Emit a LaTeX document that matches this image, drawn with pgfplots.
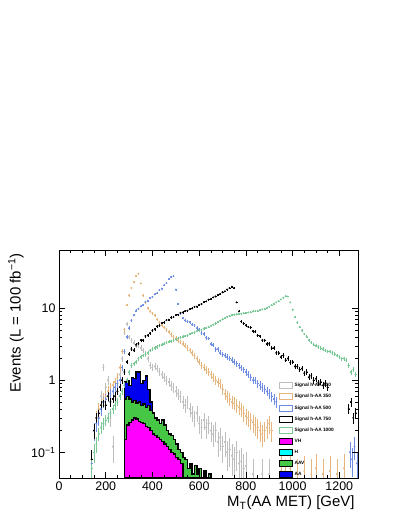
\documentclass[border=0pt]{standalone}
\usepackage{fontspec}
\setmainfont{Liberation Sans}
\usepackage{pgfplots}
\usepackage{pgfplotstable}
\pgfplotsset{compat=1.18}
\definecolor{sgray}{RGB}{190,190,190}
\definecolor{sorange}{RGB}{228,182,125}
\definecolor{sblue}{RGB}{110,140,225}
\definecolor{sgreen}{RGB}{120,200,150}
\definecolor{bmag}{RGB}{255,0,255}
\definecolor{bcyan}{RGB}{0,255,255}
\definecolor{bgreen}{RGB}{70,200,70}
\definecolor{bblue}{RGB}{0,0,240}

\pgfplotstableread{
x y
180 0.6
190 1.5
200 0.8
210 1.0
220 0.3
230 0.12
240 0.6
250 0.9
260 1.2
270 2.0
280 4.5
290 6.0
300 4.0
310 3.6
320 3.3
330 3.0
340 3.0
350 2.8
360 2.6
370 2.3
380 2.0
390 1.6
400 1.5
410 1.55
420 1.45
430 1.3
440 1.2
450 1.1
460 1.0
470 0.95
480 0.85
490 0.8
500 0.7
510 0.65
520 0.6
530 0.5
540 0.45
550 0.5
560 0.4
570 0.35
580 0.3
590 0.35
600 0.25
610 0.22
620 0.28
630 0.22
640 0.25
650 0.2
660 0.18
670 0.2
680 0.14
690 0.16
700 0.12
710 0.14
720 0.1
730 0.11
740 0.09
750 0.08
760 0.1
770 0.07
780 0.075
790 0.06
800 0.065
830 0.05
870 0.05
900 0.05
}\tgray

\pgfplotstableread{
x y
160 0.3
170 0.4
180 0.45
190 0.55
200 0.6
210 0.7
220 0.8
230 0.85
240 0.95
250 1.1
260 1.5
270 2.5
280 5.0
290 11.0
300 15.0
310 19.0
320 23.0
330 28.0
340 30.0
350 22.0
360 15.0
370 12.0
380 10.0
390 9.0
400 8.5
410 8.0
420 7.0
430 6.3
440 5.8
450 5.4
460 5.0
470 4.7
480 4.3
490 4.0
500 3.8
510 3.6
520 3.4
530 3.2
540 3.0
550 2.8
560 2.6
570 2.4
580 2.2
590 2.0
600 1.8
610 1.6
620 1.5
630 1.4
640 1.3
650 1.2
660 1.1
670 1.0
680 0.95
690 0.9
700 0.75
710 0.65
720 0.6
730 0.55
740 0.5
750 0.48
760 0.45
770 0.42
780 0.4
790 0.35
800 0.32
810 0.3
820 0.28
830 0.26
840 0.24
850 0.22
860 0.2
870 0.18
880 0.2
890 0.22
900 0.25
910 0.2
950 0.055
970 0.05
990 0.06
1020 0.05
1050 0.055
1080 0.05
1100 0.06
1130 0.05
1160 0.055
1190 0.05
1220 0.06
}\torange

\pgfplotstableread{
x y
140 0.07
150 0.2
160 0.25
170 0.3
180 0.4
190 0.5
200 0.55
210 0.6
220 0.65
230 0.7
240 0.8
250 0.9
260 1.0
270 1.5
280 2.5
290 4.0
300 5.3
310 6.8
320 8.0
330 9.2
340 9.8
350 10.6
360 11.1
370 12.2
380 12.6
390 13.9
400 14.3
410 15.5
420 16.1
430 17.8
440 18.6
450 20.8
460 22.2
470 25.3
480 27.2
490 27.8
500 18.0
510 11.5
520 8.5
530 7.3
540 6.8
550 6.5
560 6.4
570 5.9
580 5.8
590 5.3
600 5.1
610 4.5
620 4.4
630 3.9
640 3.8
650 3.2
660 3.1
670 2.7
680 2.7
690 2.4
700 2.3
710 2.2
720 2.1
730 2.0
740 1.9
750 1.8
760 1.7
770 1.6
780 1.5
790 1.4
800 1.3
810 1.2
820 1.1
830 1.0
840 1.0
850 0.9
860 0.85
870 0.8
880 0.75
890 0.7
900 0.65
910 0.6
920 0.55
930 0.5
1245 0.1
1255 0.08
1265 0.12
1275 0.07
}\tblue

\pgfplotstableread{
x y
140 0.08
150 0.2
160 0.3
170 0.35
180 0.45
190 0.5
200 0.45
210 0.6
220 0.5
230 0.55
240 0.6
250 0.7
260 0.8
270 1.0
280 1.3
290 1.8
300 2.3
310 2.7
320 2.6
330 3.1
340 3.2
350 3.6
360 3.6
370 4.1
380 4.2
390 4.5
400 4.9
410 5.1
420 5.6
430 5.7
440 6.2
450 6.3
460 6.8
470 6.9
480 7.4
490 7.5
500 8.0
510 8.1
520 8.6
530 8.7
540 9.1
550 9.2
560 9.7
570 9.9
580 10.4
590 10.5
600 11.1
610 11.4
620 12.1
630 12.4
640 13.1
650 13.4
660 14.1
670 14.5
680 15.3
690 15.7
700 16.6
710 17.1
720 18.1
730 18.9
740 19.8
750 19.0
760 12.0
770 9.0
780 6.5
790 6.1
800 5.8
810 5.5
820 5.4
830 4.8
840 4.7
850 4.2
860 4.1
870 3.6
880 3.6
890 3.2
900 3.2
910 2.8
920 2.8
930 2.4
940 2.4
950 2.1
960 2.2
970 1.9
980 2.0
990 1.75
1000 1.8
1010 1.55
1020 1.55
1030 1.4
1040 1.45
1050 1.25
1060 1.3
1070 1.1
1080 1.15
1090 1.0
1100 1.05
1110 0.92
1120 0.95
1130 0.85
1140 0.9
1150 0.8
1240 0.4
1250 0.5
1260 0.3
1270 0.35
}\tblack

\pgfplotstableread{
x y
140 0.06
150 0.1
160 0.13
170 0.18
180 0.22
190 0.25
200 0.28
210 0.3
220 0.35
230 0.4
240 0.45
250 0.5
260 0.6
270 0.7
280 0.85
290 1.0
300 1.3
310 1.6
320 1.7
330 1.8
340 2.0
350 2.1
360 2.2
370 2.3
380 2.4
390 2.6
400 2.7
410 2.8
420 2.9
430 3.0
440 3.1
450 3.2
460 3.3
470 3.4
480 3.5
490 3.6
500 3.7
510 3.8
520 3.9
530 4.0
540 4.1
550 4.2
560 4.4
570 4.5
580 4.6
590 4.8
600 4.9
610 5.0
620 5.2
630 5.3
640 5.5
650 5.7
660 5.9
670 6.1
680 6.4
690 6.7
700 7.0
710 7.3
720 7.6
730 7.8
740 8.0
750 8.1
760 8.2
770 8.3
780 8.4
790 8.5
800 8.6
810 8.7
820 8.8
830 9.0
840 9.1
850 9.2
860 9.4
870 9.6
880 9.8
890 10.0
900 10.5
910 11.0
920 11.5
930 12.0
940 12.5
950 13.2
960 14.0
970 14.7
980 14.5
990 12.0
1000 9.5
1010 7.5
1020 6.3
1030 5.5
1040 4.9
1050 4.4
1060 4.0
1070 3.6
1080 3.3
1090 3.1
1100 3.0
1110 2.9
1120 2.8
1130 2.7
1140 2.6
1150 2.5
1160 2.5
1170 2.4
1180 2.3
1190 2.2
1200 2.1
1210 2.0
1220 2.0
1230 1.9
1240 1.6
1250 1.3
1260 1.4
1270 1.2
}\tgreen

% stacked backgrounds: cumulative totals, bin left edges
\pgfplotstableread{
x y
280 0.95
290 1.0
300 0.85
310 1.1
320 1.05
330 1.3
340 1.3
350 0.9
360 1.0
370 1.15
380 0.75
390 0.5
400 0.001
}\stAA

\pgfplotstableread{
x y
280 0.55
290 0.6
300 0.55
310 0.5
320 0.52
330 0.48
340 0.5
350 0.45
360 0.47
370 0.42
380 0.45
390 0.38
400 0.35
410 0.3
420 0.28
430 0.25
440 0.28
450 0.24
460 0.2
470 0.18
480 0.17
490 0.15
500 0.13
510 0.11
520 0.1
530 0.085
540 0.08
550 0.06
560 0.07
570 0.05
580 0.065
590 0.05
600 0.06
610 0.001
620 0.055
630 0.001
640 0.05
650 0.001
}\stAAV

\pgfplotstableread{
x y
280 0.15
290 0.24
300 0.26
310 0.28
320 0.3
330 0.29
340 0.27
350 0.26
360 0.25
370 0.23
380 0.22
390 0.2
400 0.18
410 0.17
420 0.16
430 0.15
440 0.14
450 0.13
460 0.12
470 0.11
480 0.1
490 0.095
500 0.085
510 0.08
520 0.07
530 0.001
}\stVH

\begin{document}
\begin{tikzpicture}
\useasboundingbox (0,0) rectangle (399bp,516bp);
\begin{axis}[
  at={(59bp,38bp)}, anchor=south west,
  scale only axis, width=299bp, height=228bp,
  xmin=0, xmax=1280,
  ymode=log, ymin=0.044, ymax=64,
  log origin y=infty,
  xtick={0,200,...,1200},
  minor x tick num=3,
  ytick={0.1,1,10},
  yticklabels={10\textsuperscript{−1},1,10},
  /pgf/number format/assume math mode=true,
  /pgf/number format/1000 sep={},
  tick label style={font=\fontsize{12.5}{14}\selectfont},
  tick align=inside, tick pos=both,
  major tick length=6bp, minor tick length=3bp,
  every tick/.style={black, line width=0.5bp},
  axis line style={line width=0.6bp},
  axis on top,
  legend style={at={(0.736,0.425)}, anchor=north west, draw=none, fill=none,
    font=\bfseries\fontsize{4.8}{5.4}\selectfont, row sep=2.2bp,
    inner sep=0pt, legend cell align=left,
    /tikz/every even column/.append style={column sep=0bp}},
  sig/.style={only marks, mark=*, mark size=0.75bp, color=#1,
    error bars/.cd, y dir=both, y explicit, x dir=both, x fixed=3,
    error mark=none, error bar style={line width=0.45bp, color=#1}},
  stk/.style={const plot mark left, fill=#1, draw=black, line width=1.4bp, forget plot},
]
% background stack
\addplot[stk=bblue] table[x=x,y=y] {\stAA} \closedcycle;
\addplot[stk=bgreen] table[x=x,y=y] {\stAAV} \closedcycle;
\addplot[stk=bmag] table[x=x,y=y] {\stVH} \closedcycle;
% signals
\addplot[forget plot, sig=sgray] table[x=x,y=y,y error expr={sqrt(0.02*\thisrow{y})}] {\tgray};
\addplot[forget plot, sig=sorange] table[x=x,y=y,y error expr={sqrt(0.02*\thisrow{y})}] {\torange};
\addplot[forget plot, sig=sblue] table[x=x,y=y,y error expr={sqrt(0.015*\thisrow{y})}] {\tblue};
\addplot[forget plot, sig=black] table[x=x,y=y,y error expr={sqrt(0.01*\thisrow{y})}] {\tblack};
\addplot[forget plot, sig=sgreen] table[x=x,y=y,y error expr={sqrt(0.008*\thisrow{y})}] {\tgreen};
% legend
\addlegendimage{legend image code/.code={\draw[draw=sgray,line width=0.9bp,fill=white] (0bp,-3bp) rectangle (12.5bp,3bp);}}
\addlegendentry{Signal h-AA 200}
\addlegendimage{legend image code/.code={\draw[draw=sorange,line width=0.9bp,fill=white] (0bp,-3bp) rectangle (12.5bp,3bp);}}
\addlegendentry{Signal h-AA 350}
\addlegendimage{legend image code/.code={\draw[draw=sblue,line width=0.9bp,fill=white] (0bp,-3bp) rectangle (12.5bp,3bp);}}
\addlegendentry{Signal h-AA 500}
\addlegendimage{legend image code/.code={\draw[draw=black,line width=0.9bp,fill=white] (0bp,-3bp) rectangle (12.5bp,3bp);}}
\addlegendentry{Signal h-AA 750}
\addlegendimage{legend image code/.code={\draw[draw=sgreen,line width=0.9bp,fill=white] (0bp,-3bp) rectangle (12.5bp,3bp);}}
\addlegendentry{Signal h-AA 1000}
\addlegendimage{legend image code/.code={\draw[draw=black,line width=0.9bp,fill=bmag] (0bp,-3bp) rectangle (12.5bp,3bp);}}
\addlegendentry{VH}
\addlegendimage{legend image code/.code={\draw[draw=black,line width=0.9bp,fill=bcyan] (0bp,-3bp) rectangle (12.5bp,3bp);}}
\addlegendentry{H}
\addlegendimage{legend image code/.code={\draw[draw=black,line width=0.9bp,fill=bgreen] (0bp,-3bp) rectangle (12.5bp,3bp);}}
\addlegendentry{AAV}
\addlegendimage{legend image code/.code={\draw[draw=black,line width=0.9bp,fill=bblue] (0bp,-3bp) rectangle (12.5bp,3bp);}}
\addlegendentry{AA}
\end{axis}
\node[anchor=east, font=\fontsize{15}{17}\selectfont] at (358bp,13bp) {M\textsubscript{T}(AA MET) [GeV]};
\node[rotate=90, anchor=east, font=\fontsize{15}{17}\selectfont] at (16bp,266bp) {Events (L = 100 fb\textsuperscript{−1})};
\end{tikzpicture}
\end{document}
